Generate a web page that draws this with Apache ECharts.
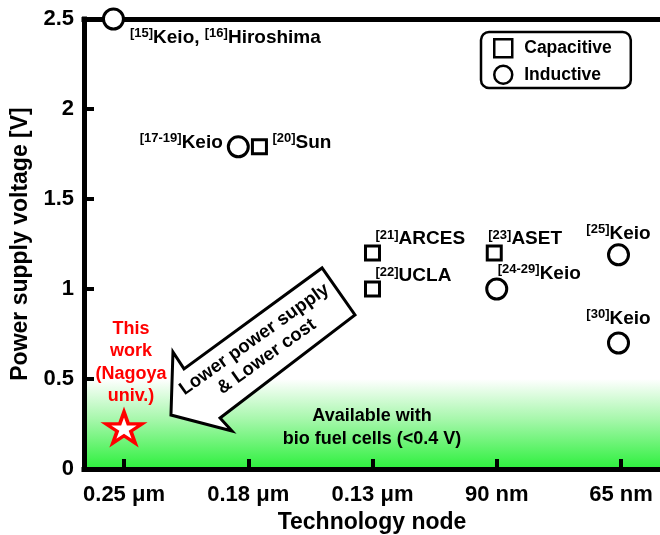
<!DOCTYPE html>
<html><head><meta charset="utf-8">
<script src="https://cdn.jsdelivr.net/npm/echarts@6/dist/echarts.min.js"></script>
<style>html,body{margin:0;padding:0;background:#fff}#c{width:660px;height:535px}</style>
</head><body><div id="c"></div>
<script>
const FONT = '"Liberation Sans", Arial, Helvetica, sans-serif';

// ---- data ----
const categories = ['0.25 μm', '0.18 μm', '0.13 μm', '90 nm', '65 nm'];
const categoryPos = [0, 1, 2, 3, 4];

const capX = [1.09, 2.0, 2.0, 2.98];
const capY = [1.79, 1.2, 1.0, 1.2];
const capRefs = [['[20]'], ['[21]'], ['[22]'], ['[23]']];
const capNames = [['Sun'], ['ARCES'], ['UCLA'], ['ASET']];

const indX = [-0.085, 0.92, 3.0, 3.98, 3.98];
const indY = [2.5, 1.79, 1.0, 1.19, 0.7];
const indRefs = [['[15]', '[16]'], ['[17-19]'], ['[24-29]'], ['[25]'], ['[30]']];
const indNames = [['Keio, ', 'Hiroshima'], ['Keio'], ['Keio'], ['Keio'], ['Keio']];

const thisX = [0];
const thisY = [0.23];
const thisLabel = 'This\nwork\n(Nagoya\nuniv.)';

const bioRange = [0, 0.5];
const bioText = 'Available with\nbio fuel cells (<0.4 V)';

const arrowText = 'Lower power supply\n& Lower cost';
const arrowShapeX = [0.378, 0.394, 0.483, 1.594, 1.859, 0.773, 0.869];
const arrowShapeY = [0.30, 0.65, 0.556, 1.117, 0.856, 0.283, 0.211];
const arrowTextAt = [1.099, 0.672];

// ---- label layout (styling) ----
const capLabelLayout = [
  {align: 'left', offset: [13, -4]},
  {align: 'left', offset: [3, -14]},
  {align: 'left', offset: [3, -13]},
  {align: 'left', offset: [-6, -14]}
];
const indLabelLayout = [
  {align: 'left', offset: [16.5, 18.5]},
  {align: 'right', offset: [-15.5, -4.5]},
  {align: 'left', offset: [1, -15.5]},
  {align: 'center', offset: [0, -21.5]},
  {align: 'center', offset: [0, -24.5]}
];

const rich = {
  b: {fontSize: 19, fontWeight: 'bold', fontFamily: FONT, color: '#000', lineHeight: 21},
  s: {fontSize: 13, fontWeight: 'bold', fontFamily: FONT, color: '#000', lineHeight: 12, verticalAlign: 'top'}
};
function richLabel(refs, names) {
  let out = '';
  for (let i = 0; i < names.length; i++) out += '{s|' + refs[i] + '}{b|' + names[i] + '}';
  return out;
}
function buildPoints(xs, ys, refs, names, layout) {
  return xs.map((x, i) => ({
    value: [x, ys[i]],
    label: {
      show: true, position: 'inside', verticalAlign: 'middle',
      align: layout[i].align, offset: layout[i].offset,
      formatter: () => richLabel(refs[i], names[i]), rich: rich
    }
  }));
}

const starPath = 'path://M50,0 L61.23,34.55 L97.55,34.55 L68.16,55.9 L79.39,90.45 L50,69.1 L20.61,90.45 L31.84,55.9 L2.45,34.55 L38.77,34.55 Z';

const chart = echarts.init(document.getElementById('c'), null, {renderer: 'canvas'});
const axisText = {fontSize: 22, fontWeight: 'bold', color: '#000', fontFamily: FONT};
const nameText = {fontSize: 23, fontWeight: 'bold', color: '#000', fontFamily: FONT};

chart.setOption({
  animation: false,
  backgroundColor: '#fff',
  grid: {left: 84, right: 0, top: 19, bottom: 66, outerBoundsMode: 'none', containLabel: false},
  xAxis: [{
    type: 'value', min: -0.322, max: 4.314, position: 'bottom', z: 3,
    axisLine: {show: true, onZero: false, lineStyle: {color: '#000', width: 5, cap: 'square'}},
    axisTick: {show: true, inside: true, length: 10, customValues: categoryPos, lineStyle: {color: '#000', width: 4}},
    axisLabel: {customValues: categoryPos, formatter: v => categories[Math.round(v)], margin: 15, ...axisText},
    splitLine: {show: false},
    name: 'Technology node', nameLocation: 'middle', nameGap: 40, nameTextStyle: nameText
  }, {
    type: 'value', min: -0.322, max: 4.314, position: 'top', z: 3,
    axisLine: {show: true, onZero: false, lineStyle: {color: '#000', width: 5, cap: 'square'}},
    axisTick: {show: false}, axisLabel: {show: false}, splitLine: {show: false}
  }],
  yAxis: {
    type: 'value', min: 0, max: 2.5, interval: 0.5, z: 3,
    axisLine: {show: true, onZero: false, lineStyle: {color: '#000', width: 5, cap: 'square'}},
    axisTick: {show: true, inside: true, length: 10, lineStyle: {color: '#000', width: 4}},
    axisLabel: {margin: 10, ...axisText},
    splitLine: {show: false},
    name: 'Power supply voltage [V]', nameLocation: 'middle', nameGap: 49, nameTextStyle: nameText
  },
  legend: {
    data: ['Capacitive', 'Inductive'], orient: 'vertical', left: 481, top: 32,
    itemWidth: 18, itemHeight: 18, itemGap: 6, padding: [6, 19, 3, 12],
    borderColor: '#000', borderWidth: 2.5, borderRadius: 8, backgroundColor: '#fff',
    selectedMode: false,
    itemStyle: {color: '#fff', borderColor: '#000', borderWidth: 2.5},
    textStyle: {fontSize: 17.5, fontWeight: 'bold', color: '#000', fontFamily: FONT, lineHeight: 18, padding: [0, 0, 0, 7]}
  },
  series: [{
    name: 'bio', type: 'scatter', data: [], z: 1, silent: true,
    markArea: {
      silent: true,
      itemStyle: {color: new echarts.graphic.LinearGradient(0, 0, 0, 1, [
        {offset: 0, color: '#ffffff'}, {offset: 0.45, color: '#a6f7ab'}, {offset: 1, color: '#2cf03c'}])},
      label: {show: true, position: 'inside', formatter: bioText, fontSize: 18, fontWeight: 'bold',
        fontFamily: FONT, color: '#000', lineHeight: 23, offset: [0, 4]},
      data: [[{xAxis: 'min', yAxis: bioRange[0]}, {xAxis: 'max', yAxis: bioRange[1]}]]
    }
  }, {
    name: 'Capacitive', type: 'scatter', symbol: 'rect', symbolSize: 14, z: 5,
    itemStyle: {color: '#fff', borderColor: '#000', borderWidth: 3, opacity: 1},
    emphasis: {disabled: true},
    data: buildPoints(capX, capY, capRefs, capNames, capLabelLayout)
  }, {
    name: 'Inductive', type: 'scatter', symbol: 'circle', symbolSize: 20, z: 5,
    itemStyle: {color: '#fff', borderColor: '#000', borderWidth: 3, opacity: 1},
    emphasis: {disabled: true},
    data: buildPoints(indX, indY, indRefs, indNames, indLabelLayout)
  }, {
    name: 'This work', type: 'scatter', symbol: starPath, symbolSize: [36, 31], z: 5,
    itemStyle: {color: '#fff', borderColor: '#ff0000', borderWidth: 3.5, opacity: 1},
    emphasis: {disabled: true},
    label: {show: true, position: 'inside', formatter: thisLabel, align: 'center', verticalAlign: 'middle',
      offset: [7, -65], fontSize: 18, fontWeight: 'bold', fontFamily: FONT, color: '#ff0000', lineHeight: 22.5},
    data: thisX.map((x, i) => [x, thisY[i]])
  }]
});

// arrow annotation, placed in data space
const toPx = (x, y) => chart.convertToPixel({xAxisIndex: 0, yAxisIndex: 0}, [x, y]);
const arrowPts = arrowShapeX.map((x, i) => toPx(x, arrowShapeY[i]));
const tp = toPx(arrowTextAt[0], arrowTextAt[1]);
chart.setOption({
  graphic: [{
    type: 'polygon', z: 20, shape: {points: arrowPts},
    style: {fill: '#fff', stroke: '#000', lineWidth: 3, lineJoin: 'miter'}
  }, {
    type: 'text', z: 21, x: tp[0], y: tp[1], rotation: 35.5 * Math.PI / 180,
    style: {text: arrowText, fill: '#000', font: 'bold 18.5px ' + FONT,
      textAlign: 'center', textVerticalAlign: 'middle', align: 'center', verticalAlign: 'middle', lineHeight: 21}
  }]
});
</script>
</body></html>
